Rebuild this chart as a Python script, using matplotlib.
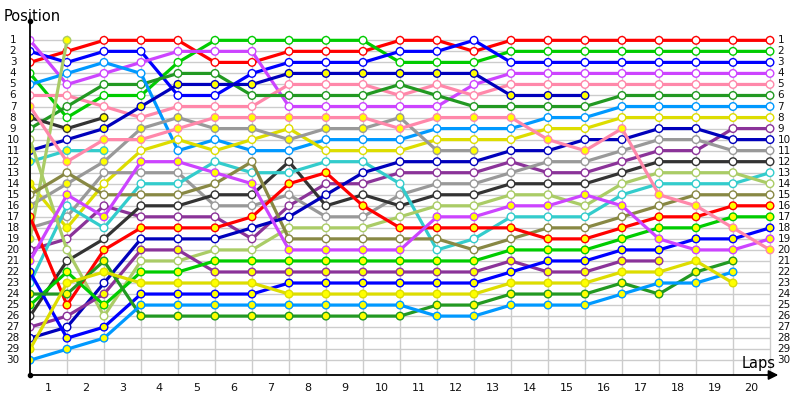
import numpy as np
import matplotlib.pyplot as plt

# race position of each driver after every lap (index 0 = starting grid)
red_1 = [3, 2, 1, 1, 1, 3, 3, 2, 2, 2, 1, 1, 2, 1, 1, 1, 1, 1, 1, 1, 1]
red_2 = [17, 25, 20, 18, 18, 18, 17, 14, 13, 16, 18, 18, 18, 18, 19, 19, 18, 17, 17, 16, 16]
green_1 = [4, 8, 6, 6, 3, 1, 1, 1, 1, 1, 3, 3, 3, 2, 2, 2, 2, 2, 2, 2, 2]
green_2 = [25, 22, 25, 22, 22, 21, 21, 21, 21, 21, 21, 21, 21, 20, 20, 20, 19, 18, 18, 17, 17]
blue_1 = [2, 3, 2, 2, 6, 6, 4, 3, 3, 3, 2, 2, 1, 3, 3, 3, 3, 3, 3, 3, 3]
blue_2 = [22, 28, 27, 24, 24, 24, 24, 23, 23, 23, 23, 23, 23, 22, 21, 21, 20, 20, 19, 19, 18]
violet_1 = [1, 5, 4, 3, 2, 2, 2, 7, 7, 7, 7, 7, 5, 4, 4, 4, 4, 4, 4, 4, 4]
violet_2 = [21, 15, 17, 12, 12, 13, 14, 20, 20, 20, 20, 17, 17, 16, 16, 15, 16, 19, 20, 20, 19]
pink_1 = [6, 6, 7, 8, 7, 7, 7, 5, 5, 5, 6, 5, 6, 5, 5, 5, 5, 5, 5, 5, 5]
pink_2 = [7, 12, 10, 10, 9, 8, 8, 8, 8, 8, 9, 8, 8, 8, 10, 11, 9, 15, 16, 18, 20]
dkgreen_1 = [9, 7, 5, 5, 4, 4, 6, 6, 6, 6, 5, 6, 7, 7, 7, 7, 6, 6, 6, 6, 6]
dkgreen_2 = [24, 24, 21, 26, 26, 26, 26, 26, 26, 26, 26, 25, 25, 24, 24, 24, 23, 24, 22, 21]
ltblue_1 = [5, 4, 3, 4, 11, 10, 11, 11, 10, 10, 10, 9, 9, 9, 8, 8, 7, 7, 7, 7, 7]
ltblue_2 = [30, 29, 28, 25, 25, 25, 25, 25, 25, 25, 25, 26, 26, 25, 25, 25, 24, 23, 23, 22]
yellow_1 = [14, 18, 14, 11, 10, 11, 10, 9, 11, 11, 11, 10, 10, 10, 9, 9, 8, 8, 8, 8, 8]
yellow_2 = [29, 23, 22, 23, 23, 23, 23, 24, 24, 24, 24, 24, 24, 23, 23, 23, 22, 22, 21, 23]
dkpurple_1 = [20, 19, 16, 17, 17, 17, 19, 16, 14, 14, 13, 13, 13, 12, 13, 13, 12, 11, 11, 9, 9]
dkpurple_2 = [27, 26, 24, 20, 20, 22, 22, 22, 22, 22, 22, 22, 22, 21, 22, 22, 21, 21]
dkblue_1 = [11, 10, 9, 7, 5, 5, 5, 4, 4, 4, 4, 4, 4, 6, 6, 6]
dkblue_2 = [28, 27, 23, 19, 19, 19, 18, 17, 15, 13, 12, 12, 12, 11, 11, 10, 10, 9, 9, 10, 10]
gray_1 = [16, 14, 12, 9, 8, 9, 9, 10, 9, 9, 8, 11, 11]
gray_2 = [18, 17, 13, 13, 13, 16, 16, 15, 17, 17, 15, 14, 14, 13, 12, 12, 11, 10, 10, 11, 11]
dkgray_1 = [8, 9, 8]
dkgray_2 = [26, 21, 19, 16, 16, 15, 15, 12, 16, 15, 16, 15, 15, 14, 14, 14, 13, 12, 12, 12, 12]
cyan_1 = [12, 11, 11]
cyan_2 = [23, 16, 18, 14, 14, 12, 13, 13, 12, 12, 14, 20, 19, 17, 17, 17, 15, 14, 14, 14, 13]
ltgreen_1 = [10, 20, 26, 21, 21, 20, 20, 18, 18, 18, 17, 16, 16, 15, 15, 16, 14, 13, 13, 13, 14]
ltgreen_2 = [19, 1]
olive_1 = [15, 13, 15, 15, 15, 14, 12, 19, 19, 19, 19, 19, 20, 19, 18, 18, 17, 16, 15, 15, 15]

# '1' = yellow filled marker on that lap
fill_dkpurple_2 = '00' + '1' * 16
fill_dkblue_1 = '10' + '1' * 14
fill_yellow_1 = '11' + '0' * 19

drivers = [
    (red_1, '#ff0000', None), (green_1, '#00cc00', None), (blue_1, '#0000ff', None),
    (violet_1, '#cc44ff', None), (pink_1, '#ff88aa', None), (dkgreen_1, '#229922', None),
    (ltblue_1, '#0099ff', None), (yellow_1, '#dddd00', fill_yellow_1),
    (dkpurple_1, '#8b3399', None), (dkblue_1, '#0000bb', fill_dkblue_1),
    (gray_1, '#999999', 'all'), (gray_2, '#999999', None),
    (dkgray_1, '#333333', 'all'), (dkgray_2, '#333333', None),
    (cyan_1, '#33cccc', 'all'), (cyan_2, '#33cccc', None),
    (ltgreen_1, '#aacc66', None), (ltgreen_2, '#aacc66', 'all'), (olive_1, '#888844', None),
    (dkblue_2, '#0000bb', None), (dkpurple_2, '#8b3399', fill_dkpurple_2),
    (red_2, '#ff0000', 'all'), (green_2, '#00cc00', 'all'), (blue_2, '#0000ff', 'all'),
    (violet_2, '#cc44ff', 'all'), (pink_2, '#ff88aa', 'all'), (dkgreen_2, '#229922', 'all'),
    (ltblue_2, '#0099ff', 'all'), (yellow_2, '#dddd00', 'all'),
]

n_laps = 20
n_pos = 30

fig = plt.figure(figsize=(8, 4), dpi=100)
ax = fig.add_axes([30 / 800, 25 / 400, 760 / 800, 350 / 400])
ax.set_xlim(0, 760 / 37)
ax.set_ylim(31.34, -0.39)
ax.axis('off')

# grid
ax.hlines(range(1, n_pos + 1), 0, n_laps, color='#cccccc', lw=1, zorder=0)
ax.vlines(range(1, n_laps + 1), 0.5, 31.34, color='#cccccc', lw=1, zorder=0)

z = 2
for pos, col, fill in drivers:
    laps = np.arange(len(pos))
    ax.plot(laps, pos, color=col, lw=2.3, zorder=z, solid_capstyle='round')
    if fill is None:
        fc = ['white'] * len(pos)
    elif fill == 'all':
        fc = ['#ffff00'] * len(pos)
    else:
        fc = ['#ffff00' if f == '1' else 'white' for f in fill]
    ax.scatter(laps, pos, s=30, facecolors=fc, edgecolors=col, linewidths=1.0, zorder=z + 0.5)
    z += 1

# axes lines
ax.plot([0, 0], [31.34, -0.75], color='black', lw=1.3, clip_on=False, zorder=100)
ax.plot([0], [-0.75], 'o', color='black', ms=3, clip_on=False, zorder=100)
ax.plot([0], [31.34], 'o', color='black', ms=3, clip_on=False, zorder=100)
ax.annotate('', xy=(20.3, 31.34), xytext=(0, 31.34),
            arrowprops=dict(arrowstyle='-|>', color='black', lw=1.3, mutation_scale=14),
            annotation_clip=False, zorder=100)

for p in range(1, n_pos + 1):
    ax.text(-0.46, p, str(p), ha='center', va='center', fontsize=7.5, color='#111111', clip_on=False)
    ax.text(20.2, p, str(p), ha='left', va='center', fontsize=7.5, color='#111111', clip_on=False)

for k in range(1, n_laps + 1):
    ax.text(k - 0.5, 32.55, str(k), ha='center', va='center', fontsize=8, color='#111111', clip_on=False)

fig.text(4 / 800, 1 - 21 / 400, 'Position', fontsize=10.5, va='baseline')
fig.text(742 / 800, 1 - 368 / 400, 'Laps', fontsize=10.5, va='baseline')

fig.savefig('out.png', dpi=100)
